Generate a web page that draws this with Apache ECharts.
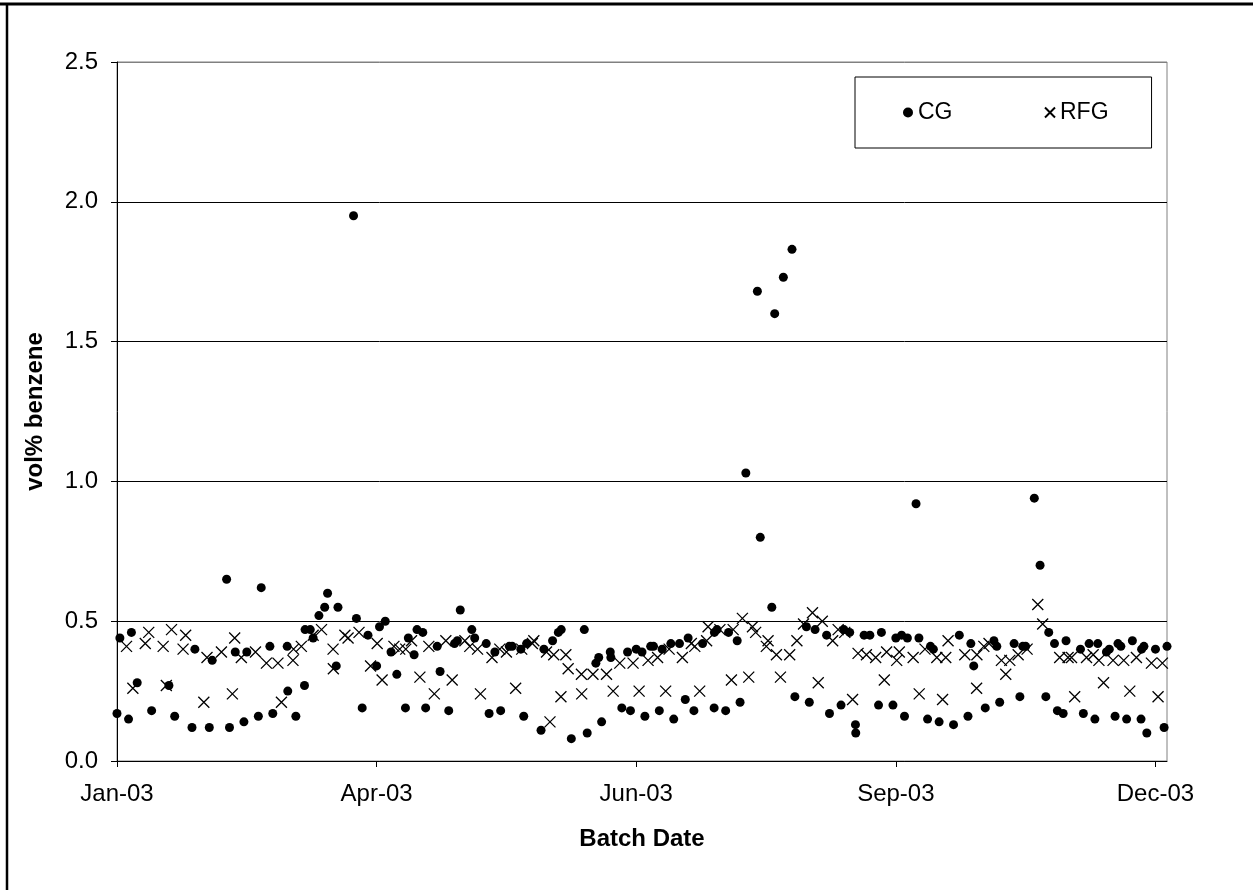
<!DOCTYPE html>
<html>
<head>
<meta charset="utf-8">
<style>
html,body{margin:0;padding:0;background:#fff;}
#chart{width:1253px;height:890px;}
</style>
<script src="https://cdn.jsdelivr.net/npm/echarts@6/dist/echarts.min.js"></script>
</head>
<body>
<div id="chart"></div>
<script>
// x values are days since 1 Jan 2003
const xTickLabels = ["Jan-03", "Apr-03", "Jun-03", "Sep-03", "Dec-03"];
const yTickLabels = ["0.0", "0.5", "1.0", "1.5", "2.0", "2.5"];

const cgDays = [0,1,4,5,7,12,18,20,26,27,32,33,38,39,41,44,45,49,50,53,54,59,59.2,62,65,65.2,67,68,70,72,73,76,76.6,82,83,85,87,90,91,93,95,97,100,101,103,104,106,107,111,112,115,117,118,119,123,124,128,129,131,133,136,137,140,141,142,147,148,151,153,154,157.5,162,163,166,167,168,171,171.2,175,177,178,180,182,183,185,186,188,189,192,193,195,197,198,200,203,207,207.1,208,211,212,215,216,218,222,223,227,228,231,234,235,239,240,242,246,247,251,252,254,256,256.1,259,261,264,265,269,270,272,273,274,277,278,281,282,283,285,290,292,295,296,297,301,304,305,306,311,313,314,315,318,320,322,323,325,326,328,329,334,335,337,339,340,343,344,346,347,348,350,352,355,355.2,356,357,360,363,364];
const cgValues = [0.17,0.44,0.15,0.46,0.28,0.18,0.27,0.16,0.12,0.40,0.12,0.36,0.65,0.12,0.39,0.14,0.39,0.16,0.62,0.41,0.17,0.41,0.25,0.16,0.27,0.47,0.47,0.44,0.52,0.55,0.60,0.34,0.55,1.95,0.51,0.19,0.45,0.34,0.48,0.50,0.39,0.31,0.19,0.44,0.38,0.47,0.46,0.19,0.41,0.32,0.18,0.42,0.43,0.54,0.47,0.44,0.42,0.17,0.39,0.18,0.41,0.41,0.40,0.16,0.42,0.11,0.40,0.43,0.46,0.47,0.08,0.47,0.10,0.35,0.37,0.14,0.39,0.37,0.19,0.39,0.18,0.40,0.39,0.16,0.41,0.41,0.18,0.40,0.42,0.15,0.42,0.22,0.44,0.18,0.42,0.19,0.46,0.47,0.18,0.46,0.43,0.21,1.03,1.68,0.80,0.55,1.60,1.73,1.83,0.23,0.48,0.21,0.47,0.45,0.17,0.20,0.47,0.46,0.13,0.10,0.45,0.45,0.20,0.46,0.20,0.44,0.45,0.16,0.44,0.92,0.44,0.15,0.41,0.40,0.14,0.13,0.45,0.16,0.42,0.34,0.19,0.43,0.41,0.21,0.42,0.23,0.41,0.41,0.94,0.70,0.23,0.46,0.42,0.18,0.17,0.43,0.40,0.17,0.42,0.15,0.42,0.39,0.40,0.16,0.42,0.41,0.15,0.43,0.15,0.40,0.41,0.10,0.40,0.12,0.41];

const rfgDays = [3.3,5.5,9.8,11,16,17.1,18.9,22.9,23.8,30.1,31.2,36.2,40,40.8,43.1,48,51.8,55.8,57,61,61.2,63.9,68,70.9,74.9,75,79,80.1,83.9,87.9,90.2,91.9,96,98,100.1,102.1,105,108.1,110,114,116.2,120.6,122.3,125,126,130,132.7,135,138.2,140.3,144,144.5,148.9,150.1,151.4,153.9,155.6,156.4,161,161.1,165,169.7,172,174.3,178.9,181,184.1,187.4,190.2,191.4,196,199.1,200.3,202,204.4,204.9,209,213,213.6,216.8,219,220.3,221.4,225.1,225.7,228.6,230,233.2,235.7,238,241.1,243.1,244.5,248.1,250,252.3,255,256.9,259.8,263,266,266.8,270.3,271.2,276,278.1,280.1,284.2,286.2,287.3,288.1,293.9,298,298.1,300.5,302.3,306.6,308.1,309.5,312.4,315.5,319.2,320.9,326.8,329.7,330.9,332,336.1,338.4,340.4,342,345.3,349,351.1,353.4,358.6,360.9,362.4];
const rfgValues = [0.41,0.26,0.42,0.46,0.41,0.27,0.47,0.40,0.45,0.21,0.37,0.39,0.24,0.44,0.37,0.39,0.35,0.35,0.21,0.36,0.40,0.41,0.45,0.47,0.40,0.33,0.45,0.44,0.46,0.34,0.42,0.29,0.41,0.40,0.40,0.43,0.30,0.41,0.24,0.43,0.29,0.43,0.41,0.40,0.24,0.37,0.40,0.39,0.26,0.40,0.42,0.43,0.39,0.14,0.38,0.23,0.38,0.33,0.31,0.24,0.31,0.31,0.25,0.35,0.35,0.25,0.36,0.37,0.25,0.40,0.37,0.42,0.41,0.25,0.43,0.48,0.47,0.29,0.47,0.51,0.30,0.48,0.46,0.41,0.43,0.38,0.30,0.38,0.43,0.49,0.53,0.28,0.50,0.43,0.47,0.46,0.22,0.385,0.38,0.37,0.29,0.39,0.36,0.39,0.37,0.24,0.40,0.37,0.22,0.37,0.43,0.38,0.26,0.38,0.41,0.42,0.36,0.31,0.36,0.38,0.40,0.56,0.49,0.37,0.37,0.37,0.23,0.37,0.38,0.36,0.28,0.36,0.36,0.25,0.37,0.35,0.23,0.35];

const cgData = cgDays.map((d, i) => [d, cgValues[i]]);
const rfgData = rfgDays.map((d, i) => [d, rfgValues[i]]);

const FONT = '"Liberation Sans", Arial, sans-serif';
const crossPath = 'path://M0,0L10,10M10,0L0,10';

const chart = echarts.init(document.getElementById('chart'), null, {renderer: 'canvas'});
chart.setOption({
  animation: false,
  backgroundColor: '#fff',
  textStyle: {fontFamily: FONT, color: '#000'},
  grid: {left: 117, top: 62, width: 1050, height: 699, show: true, borderColor: '#808080', borderWidth: 1, backgroundColor: '#fff'},
  legend: {
    left: 855, top: 77,
    orient: 'horizontal',
    padding: [24, 43, 24, 48],
    itemGap: 90,
    itemWidth: 10, itemHeight: 10,
    backgroundColor: '#fff',
    borderColor: '#000', borderWidth: 1,
    textStyle: {fontFamily: FONT, fontSize: 23, color: '#000'},
    data: [
      {name: 'CG', icon: 'circle'},
      {name: 'RFG', icon: crossPath}
    ]
  },
  xAxis: {
    type: 'value', min: 0, max: 364, interval: 90,
    name: 'Batch Date', nameLocation: 'middle', nameGap: 66,
    nameTextStyle: {fontFamily: FONT, fontSize: 24, fontWeight: 'bold', color: '#000'},
    axisLine: {show: true, lineStyle: {color: '#000', width: 1}},
    axisTick: {show: true, inside: false, length: 6, lineStyle: {color: '#000'}},
    axisLabel: {
      margin: 21, fontFamily: FONT, fontSize: 24, color: '#000',
      showMaxLabel: false,
      formatter: v => (v % 90 === 0 ? xTickLabels[v / 90] : '')
    },
    splitLine: {show: false}
  },
  yAxis: {
    type: 'value', min: 0, max: 2.5, interval: 0.5,
    name: 'vol% benzene', nameLocation: 'middle', nameGap: 70, nameRotate: 90,
    nameTextStyle: {fontFamily: FONT, fontSize: 24, fontWeight: 'bold', color: '#000'},
    axisLine: {show: true, lineStyle: {color: '#000', width: 1}},
    axisTick: {show: true, inside: false, length: 6, lineStyle: {color: '#000'}},
    axisLabel: {
      margin: 19, fontFamily: FONT, fontSize: 24, color: '#000',
      formatter: v => yTickLabels[Math.round(v / 0.5)]
    },
    splitLine: {show: true, lineStyle: {color: ['#000', '#000', '#000', '#000', '#000', '#808080'], width: 1}}
  },
  series: [
    {
      name: 'CG', type: 'scatter', data: cgData,
      symbol: 'circle', symbolSize: 9,
      itemStyle: {color: '#000', opacity: 1},
      emphasis: {disabled: true}
    },
    {
      name: 'RFG', type: 'scatter', data: rfgData,
      symbol: crossPath, symbolSize: 11,
      itemStyle: {color: 'none', borderColor: '#000', borderWidth: 1.3, opacity: 1},
      emphasis: {disabled: true}
    }
  ],
  graphic: [
    {type: 'line', shape: {x1: 0, y1: 4, x2: 1253, y2: 4}, style: {stroke: '#000', lineWidth: 3}, silent: true},
    {type: 'line', shape: {x1: 7, y1: 4, x2: 7, y2: 890}, style: {stroke: '#000', lineWidth: 2.5}, silent: true}
  ]
});
</script>
</body>
</html>
